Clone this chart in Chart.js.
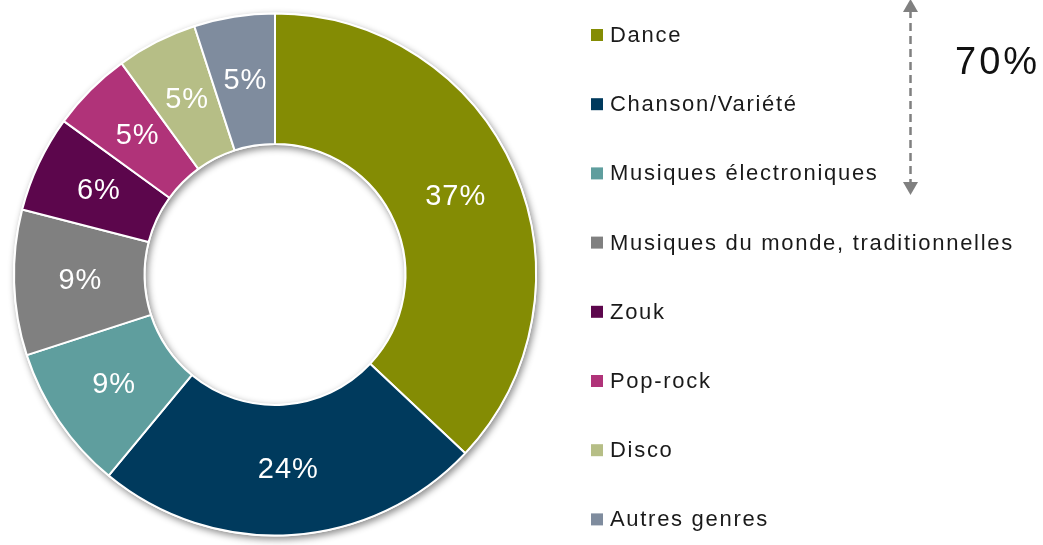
<!DOCTYPE html>
<html>
<head>
<meta charset="utf-8">
<script src="https://cdn.jsdelivr.net/npm/chart.js@4.4.0/dist/chart.umd.min.js"></script>
<style>
  html, body { margin: 0; padding: 0; background: #fff; }
  #wrap { width: 1043px; height: 545px; position: relative; }
</style>
</head>
<body>
<div id="wrap"><canvas id="chart"></canvas></div>
<script>
// Data
const genres = ['Dance', 'Chanson/Variété', 'Musiques électroniques', 'Musiques du monde, traditionnelles', 'Zouk', 'Pop-rock', 'Disco', 'Autres genres'];
const shares = [37, 24, 9, 9, 6, 5, 5, 5];
const colors = ['#848c04', '#003a5d', '#5f9e9e', '#808080', '#5c064c', '#b03379', '#b6be86', '#7f8c9e'];
const bracketLabel = '70%';

// Soft shadow under the whole ring (outside bottom-right, inside the hole top-left)
const ringShadow = {
  id: 'ringShadow',
  beforeDatasetsDraw(chart) {
    const arc = chart.getDatasetMeta(0).data[0];
    if (!arc) return;
    const { x, y, outerRadius, innerRadius } = arc.getProps(['x', 'y', 'outerRadius', 'innerRadius'], true);
    const ctx = chart.ctx;
    ctx.save();
    ctx.shadowColor = 'rgba(0,0,0,0.45)';
    ctx.shadowBlur = 7;
    ctx.shadowOffsetX = 2;
    ctx.shadowOffsetY = 3;
    ctx.fillStyle = '#ffffff';
    ctx.beginPath();
    ctx.arc(x, y, outerRadius + 1, 0, Math.PI * 2);
    ctx.arc(x, y, innerRadius - 1, 0, Math.PI * 2, true);
    ctx.closePath();
    ctx.fill();
    ctx.restore();
  }
};

// Percent labels in the middle of each slice
const sliceLabels = {
  id: 'sliceLabels',
  afterDatasetsDraw(chart) {
    const ctx = chart.ctx;
    ctx.save();
    ctx.font = '29px "Liberation Sans", Arial, sans-serif';
    ctx.letterSpacing = '1px';
    ctx.fillStyle = '#ffffff';
    ctx.textAlign = 'center';
    ctx.textBaseline = 'middle';
    chart.getDatasetMeta(0).data.forEach((arc, i) => {
      const p = arc.tooltipPosition();
      ctx.fillText(shares[i] + '%', p.x + 1, p.y);
    });
    ctx.restore();
  }
};

// Legend on the right, plus the dashed bracket arrow and its label
const sideLegend = {
  id: 'sideLegend',
  afterDraw(chart) {
    const ctx = chart.ctx;
    ctx.save();
    const top = 35, step = 69.2;
    ctx.font = '22px "Liberation Sans", Arial, sans-serif';
    ctx.letterSpacing = '1.7px';
    ctx.textBaseline = 'middle';
    ctx.textAlign = 'left';
    genres.forEach((g, i) => {
      const cy = top + i * step;
      ctx.fillStyle = colors[i];
      ctx.fillRect(591, cy - 6, 12, 12);
      ctx.fillStyle = '#1a1a1a';
      ctx.fillText(g, 610, cy + 1);
    });

    // dashed double arrow
    const ax = 910.5, y0 = 0, y1 = 195;
    ctx.strokeStyle = '#808080';
    ctx.fillStyle = '#808080';
    ctx.lineWidth = 2.5;
    ctx.setLineDash([8, 5]);
    ctx.beginPath();
    ctx.moveTo(ax, y0 + 10);
    ctx.lineTo(ax, y1 - 10);
    ctx.stroke();
    ctx.setLineDash([]);
    ctx.beginPath();
    ctx.moveTo(ax, y0 - 1);
    ctx.lineTo(ax - 7.5, y0 + 12);
    ctx.lineTo(ax + 7.5, y0 + 12);
    ctx.closePath();
    ctx.fill();
    ctx.beginPath();
    ctx.moveTo(ax, y1);
    ctx.lineTo(ax - 7.5, y1 - 13);
    ctx.lineTo(ax + 7.5, y1 - 13);
    ctx.closePath();
    ctx.fill();

    ctx.font = '38px "Liberation Sans", Arial, sans-serif';
    ctx.letterSpacing = '3px';
    ctx.fillStyle = '#111111';
    ctx.textBaseline = 'alphabetic';
    ctx.fillText(bracketLabel, 955, 74);
    ctx.restore();
  }
};

new Chart(document.getElementById('chart'), {
  type: 'doughnut',
  data: {
    labels: genres,
    datasets: [{
      data: shares,
      backgroundColor: colors,
      borderColor: '#ffffff',
      borderWidth: 2,
      hoverOffset: 0
    }]
  },
  options: {
    responsive: true,
    maintainAspectRatio: false,
    animation: false,
    cutout: '50%',
    layout: { padding: { left: 13, top: 12, right: 506, bottom: 8 } },
    plugins: {
      legend: { display: false },
      tooltip: { enabled: false }
    }
  },
  plugins: [ringShadow, sliceLabels, sideLegend]
});
</script>
</body>
</html>
